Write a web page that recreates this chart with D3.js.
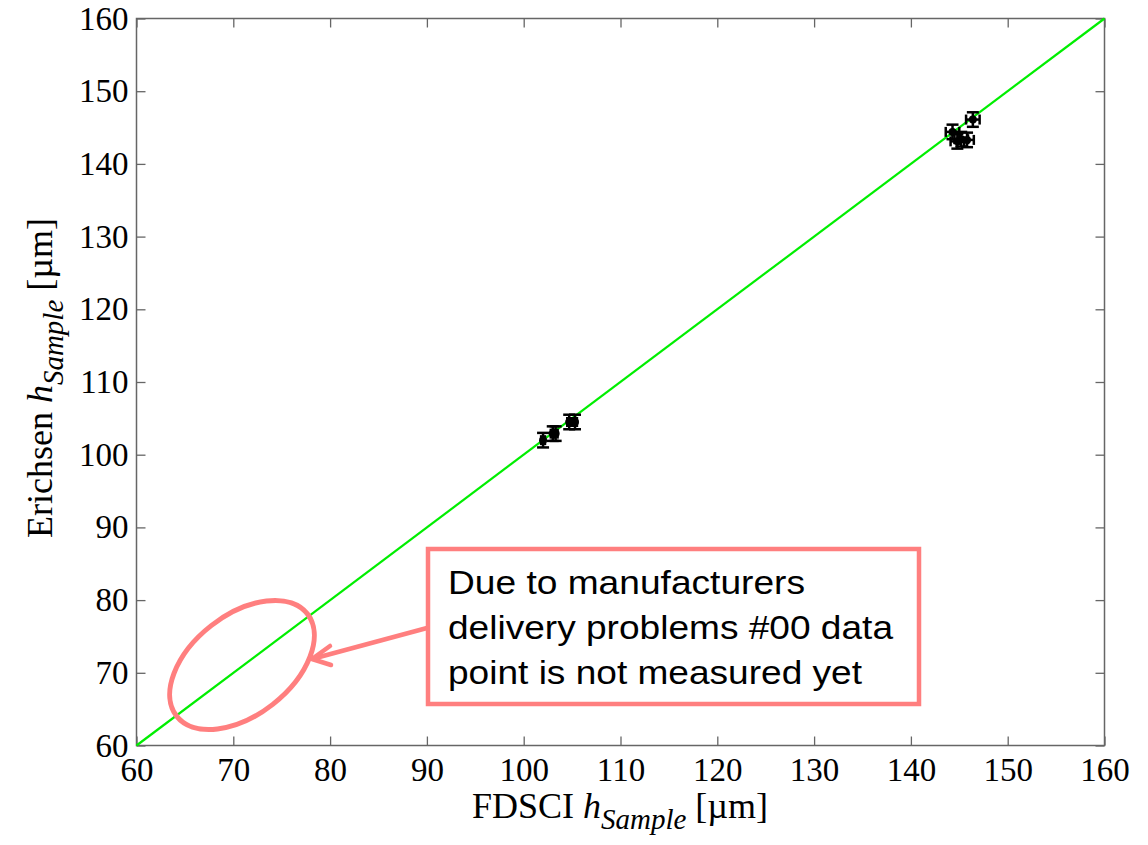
<!DOCTYPE html>
<html>
<head>
<meta charset="utf-8">
<script src="https://cdn.jsdelivr.net/npm/d3@7"></script>
<style>
  html, body { margin: 0; padding: 0; background: #fff; }
  svg { display: block; }
</style>
</head>
<body>
<svg id="chart" width="1148" height="845"></svg>
<script>
// Sample thickness measured by FDSCI (x) and Erichsen (y), with uncertainties
const fdsciH    = [102.0, 103.0, 103.3, 104.7, 105.3, 144.3, 144.8, 145.2, 145.8, 146.4];
const erichsenH = [102.0, 102.9, 102.9, 104.5, 104.5, 144.4, 143.1, 143.4, 143.3, 146.1];
const fdsciErr    = [0.2, 0.2, 0.2, 0.2, 0.2, 0.7, 0.7, 0.7, 0.7, 0.7];
const erichsenErr = [1.0, 1.0, 1.0, 1.0, 1.0, 1.0, 1.0, 1.0, 1.0, 1.0];
const xTicks = [60, 70, 80, 90, 100, 110, 120, 130, 140, 150, 160];
const yTicks = [60, 70, 80, 90, 100, 110, 120, 130, 140, 150, 160];
const domain = [60, 160];
const noteLines = ["Due to manufacturers", "delivery problems #00 data", "point is not measured yet"];

const svg = d3.select("#chart");
const plotL = 136.5, plotR = 1104.5, plotT = 18.5, plotB = 745.5;
const x = d3.scaleLinear().domain(domain).range([plotL, plotR]);
const y = d3.scaleLinear().domain(domain).range([plotB, plotT]);

const axisColor = "#666";
const serif = "'Liberation Serif', 'Times New Roman', serif";
const sans = "'Liberation Sans', Arial, sans-serif";

// Frame
svg.append("rect")
  .attr("x", plotL).attr("y", plotT)
  .attr("width", plotR - plotL).attr("height", plotB - plotT)
  .attr("fill", "none").attr("stroke", axisColor).attr("stroke-width", 1.5);

// Inward ticks on all four sides
function styleAxis(g) {
  g.style("font-family", serif).style("font-size", "33px");
  g.select(".domain").remove();
  g.selectAll(".tick line").attr("stroke", axisColor).attr("stroke-width", 1.3);
  g.selectAll(".tick text").style("font-family", serif).style("font-size", "33px").attr("fill", "#000");
}
const tl = 9;
svg.append("g").attr("transform", `translate(0,${plotB})`)
  .call(d3.axisBottom(x).tickValues(xTicks).tickSizeInner(-tl).tickPadding(12).tickFormat(d3.format("d")))
  .call(styleAxis);
svg.append("g").attr("transform", `translate(0,${plotT})`)
  .call(d3.axisTop(x).tickValues(xTicks).tickSizeInner(-tl).tickFormat(""))
  .call(styleAxis);
svg.append("g").attr("transform", `translate(${plotL},0)`)
  .call(d3.axisLeft(y).tickValues(yTicks).tickSizeInner(-tl).tickPadding(8).tickFormat(d3.format("d")))
  .call(styleAxis);
svg.append("g").attr("transform", `translate(${plotR},0)`)
  .call(d3.axisRight(y).tickValues(yTicks).tickSizeInner(-tl).tickFormat(""))
  .call(styleAxis);

// Line of equality
svg.append("line")
  .attr("x1", x(domain[0])).attr("y1", y(domain[0]))
  .attr("x2", x(domain[1])).attr("y2", y(domain[1]))
  .attr("stroke", "#00ee00").attr("stroke-width", 2.2);

// Error bars and points
const pts = fdsciH.map((v, i) => ({ x: v, y: erichsenH[i], ex: fdsciErr[i], ey: erichsenErr[i] }));
const capV = 6, capH = 5;
const eb = svg.append("g").attr("stroke", "#000").attr("stroke-width", 2.5);
pts.forEach(p => {
  const cx = x(p.x), cy = y(p.y);
  const y0 = y(p.y - p.ey), y1 = y(p.y + p.ey);
  const x0 = x(p.x - p.ex), x1 = x(p.x + p.ex);
  eb.append("line").attr("x1", cx).attr("x2", cx).attr("y1", y0).attr("y2", y1);
  eb.append("line").attr("x1", cx - capV).attr("x2", cx + capV).attr("y1", y0).attr("y2", y0);
  eb.append("line").attr("x1", cx - capV).attr("x2", cx + capV).attr("y1", y1).attr("y2", y1);
  eb.append("line").attr("x1", x0).attr("x2", x1).attr("y1", cy).attr("y2", cy);
  eb.append("line").attr("x1", x0).attr("x2", x0).attr("y1", cy - capH).attr("y2", cy + capH);
  eb.append("line").attr("x1", x1).attr("x2", x1).attr("y1", cy - capH).attr("y2", cy + capH);
});
svg.append("g").selectAll("circle").data(pts).join("circle")
  .attr("cx", d => x(d.x)).attr("cy", d => y(d.y)).attr("r", 4).attr("fill", "#000");

// Axis titles
const xl = svg.append("text")
  .attr("x", 620).attr("y", 818).attr("text-anchor", "middle")
  .style("font-family", serif).style("font-size", "36px").attr("fill", "#000");
xl.append("tspan").text("FDSCI ");
xl.append("tspan").style("font-style", "italic").text("h");
xl.append("tspan").style("font-style", "italic").style("font-size", "29px").attr("dy", 11).text("Sample");
xl.append("tspan").attr("dy", -11).text(" [\u00b5m]");

const yl = svg.append("text")
  .attr("transform", "translate(52,378) rotate(-90)").attr("text-anchor", "middle")
  .style("font-family", serif).style("font-size", "36px").attr("fill", "#000");
yl.append("tspan").text("Erichsen ");
yl.append("tspan").style("font-style", "italic").text("h");
yl.append("tspan").style("font-style", "italic").style("font-size", "29px").attr("dy", 11).text("Sample");
yl.append("tspan").attr("dy", -11).text(" [\u00b5m]");

// Annotation: highlight ellipse, arrow and note box
const note = "#ff7f7f";
svg.append("ellipse")
  .attr("cx", 242).attr("cy", 665).attr("rx", 83).attr("ry", 50)
  .attr("transform", "rotate(-38,242,665)")
  .attr("fill", "none").attr("stroke", note).attr("stroke-width", 5);

svg.append("line")
  .attr("x1", 427).attr("y1", 628).attr("x2", 312).attr("y2", 659)
  .attr("stroke", note).attr("stroke-width", 4.5);
svg.append("path")
  .attr("d", "M330,646 L312,659 L331,665")
  .attr("fill", "none").attr("stroke", note).attr("stroke-width", 4.5)
  .attr("stroke-linecap", "round").attr("stroke-linejoin", "round");

svg.append("rect")
  .attr("x", 428).attr("y", 549).attr("width", 491).attr("height", 155)
  .attr("fill", "#fff").attr("stroke", note).attr("stroke-width", 4.5);

const noteWidths = [357, 445, 414];
svg.append("g").selectAll("text").data(noteLines).join("text")
  .attr("x", 448).attr("y", (d, i) => 594 + i * 45)
  .attr("textLength", (d, i) => noteWidths[i]).attr("lengthAdjust", "spacingAndGlyphs")
  .style("font-family", sans).style("font-size", "33px").attr("fill", "#000")
  .text(d => d);
</script>
</body>
</html>
